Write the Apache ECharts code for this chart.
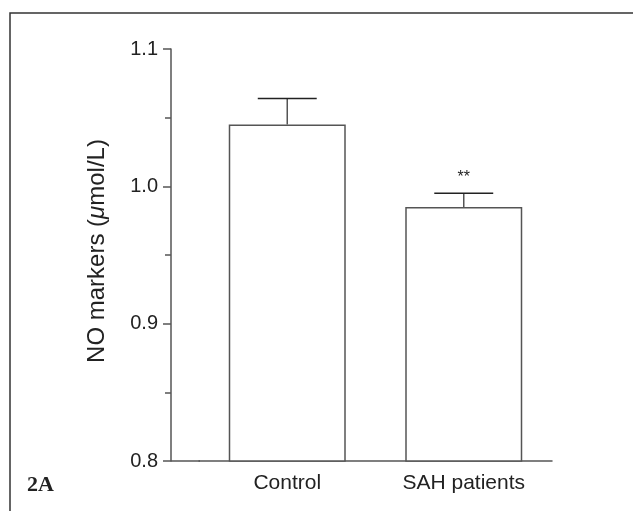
<!DOCTYPE html>
<html>
<head>
<meta charset="utf-8">
<script src="https://cdn.jsdelivr.net/npm/echarts@6/dist/echarts.min.js"></script>
<style>
  html, body { margin: 0; padding: 0; background: #fff; }
  #chart { width: 633px; height: 511px; }
</style>
</head>
<body>
<div id="chart"></div>
<script>
// values
const categories = ['Control', 'SAH patients'];
const means = [1.045, 0.985];
const errors = [0.019, 0.010];
const marks = ['', '**'];
const yTicks = [0.8, 0.9, 1.0, 1.1];

const chart = echarts.init(document.getElementById('chart'));

const axisColor = '#555';
const textColor = '#222';
const font = 'Liberation Sans, Arial, sans-serif';

chart.setOption({
  animation: false,
  title: {
    text: '2A',
    left: 22,
    top: 469,
    textStyle: { fontFamily: 'Liberation Serif, serif', fontWeight: 'bold', fontSize: 22, color: textColor }
  },
  grid: { left: 199, right: 81, top: 49, bottom: 50 },
  xAxis: {
    type: 'category',
    data: categories,
    axisLine: { lineStyle: { color: axisColor, width: 1.5 } },
    axisTick: { show: false },
    axisLabel: { color: textColor, fontFamily: font, fontSize: 21, margin: 12 }
  },
  yAxis: {
    type: 'value',
    min: yTicks[0],
    max: yTicks[yTicks.length - 1],
    interval: 0.1,
    offset: 28,
    name: '{a|NO markers (}{b|μ}{a|mol/L)}',
    nameLocation: 'middle',
    nameGap: 62,
    nameRotate: 90,
    nameTextStyle: {
      padding: [0, 0, 0, 8],
      rich: {
        a: { fontFamily: font, fontSize: 24, color: textColor },
        b: { fontFamily: font, fontSize: 24, color: textColor, fontStyle: 'italic' }
      }
    },
    axisLine: { show: true, lineStyle: { color: axisColor, width: 1.5 } },
    axisTick: { show: true, length: 8, lineStyle: { color: axisColor, width: 1.5 } },
    minorTick: { show: true, splitNumber: 2, length: 6, lineStyle: { color: axisColor, width: 1.5 } },
    splitLine: { show: false },
    axisLabel: {
      color: textColor, fontFamily: font, fontSize: 20, margin: 13,
      formatter: v => v.toFixed(1)
    }
  },
  graphic: [
    // outer frame of the panel
    { type: 'rect', shape: { x: 10, y: 13, width: 700, height: 600 },
      style: { fill: 'none', stroke: '#333', lineWidth: 1.5 }, silent: true },
    // x axis line continues left to the offset y axis
    { type: 'line', shape: { x1: 171, y1: 461, x2: 200, y2: 461 },
      style: { stroke: axisColor, lineWidth: 1.5 }, silent: true }
  ],
  series: [
    {
      type: 'bar',
      data: means,
      barWidth: 117,
      itemStyle: { color: '#fff', borderColor: axisColor, borderWidth: 1.5 }
    },
    {
      type: 'custom',
      data: categories.map((c, i) => [i, means[i], errors[i]]),
      z: 5,
      renderItem: function (params, api) {
        const i = api.value(0);
        const base = api.coord([i, api.value(1)]);
        const top = api.coord([i, api.value(1) + api.value(2)]);
        const half = api.size([1, 0])[0] * 0.167;
        return {
          type: 'group',
          children: [
            { type: 'line', shape: { x1: base[0], y1: base[1], x2: top[0], y2: top[1] },
              style: { stroke: axisColor, lineWidth: 1.5 } },
            { type: 'line', shape: { x1: top[0] - half, y1: top[1], x2: top[0] + half, y2: top[1] },
              style: { stroke: textColor, lineWidth: 1.5 } },
            { type: 'text', x: top[0], y: top[1] - 16,
              style: { text: marks[params.dataIndex], fill: textColor, font: '16px ' + font,
                       align: 'center', verticalAlign: 'middle' } }
          ]
        };
      }
    }
  ]
});
</script>
</body>
</html>
